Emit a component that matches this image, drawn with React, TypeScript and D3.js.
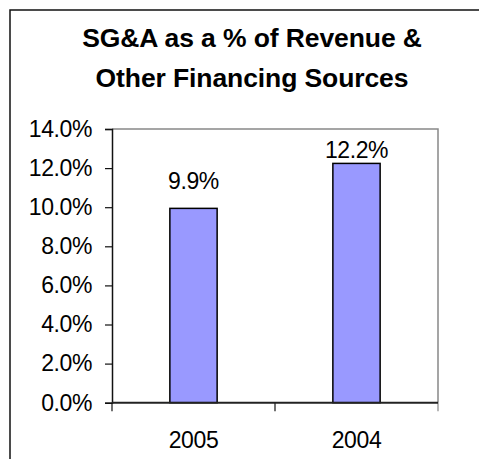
import React, { useEffect, useRef } from 'react'
import * as d3 from 'd3'

const titleLines = ['SG&A as a % of Revenue &', 'Other Financing Sources']
const years = ['2005', '2004']
const sgaPct = [9.94, 12.24]
const yTicks = [0, 2, 4, 6, 8, 10, 12, 14]

const W = 479
const H = 459
const font = '"Liberation Sans", Arial, sans-serif'
const labelSize = 23

export default function App() {
  const svgRef = useRef<SVGSVGElement>(null)

  useEffect(() => {
    const svg = d3.select(svgRef.current)
    svg.selectAll('*').remove()

    const plot = { left: 112, right: 438, top: 129, bottom: 402.7 }

    // outer chart frame, runs past the right and bottom edge
    svg.append('rect')
      .attr('x', 10).attr('y', 10)
      .attr('width', 520).attr('height', 520)
      .attr('fill', 'white')
      .attr('stroke', '#111')
      .attr('stroke-width', 1.5)

    svg.append('g')
      .selectAll('text')
      .data(titleLines)
      .join('text')
      .attr('x', 252)
      .attr('y', (d, i) => 47.3 + i * 40)
      .attr('text-anchor', 'middle')
      .attr('font-family', font)
      .attr('font-weight', 'bold')
      .attr('font-size', 26.5)
      .attr('letter-spacing', -0.1)
      .attr('fill', '#000')
      .text(d => d)

    const x = d3.scaleBand()
      .domain(years)
      .range([plot.left, plot.right])
      .paddingInner(0.71)
      .paddingOuter(0.355)

    const y = d3.scaleLinear()
      .domain([0, 14])
      .range([plot.bottom, plot.top])

    // plot area border (top and right, grey)
    svg.append('path')
      .attr('d', `M${plot.left},${plot.top}H${plot.right}V${plot.bottom}`)
      .attr('fill', 'none')
      .attr('stroke', '#888')
      .attr('stroke-width', 1.5)

    const bars = svg.append('g')
    bars.selectAll('rect')
      .data(sgaPct)
      .join('rect')
      .attr('x', (d, i) => x(years[i]))
      .attr('y', d => y(d))
      .attr('width', x.bandwidth())
      .attr('height', d => y(0) - y(d))
      .attr('fill', '#9999FF')
      .attr('stroke', '#000')
      .attr('stroke-width', 1.5)

    bars.selectAll('text')
      .data(sgaPct)
      .join('text')
      .attr('x', (d, i) => x(years[i]) + x.bandwidth() / 2)
      .attr('y', d => Math.max(y(d) - 19, plot.top + 29.3))
      .attr('text-anchor', 'middle')
      .attr('font-family', font)
      .attr('font-size', labelSize)
      .attr('letter-spacing', -0.4)
      .attr('fill', '#000')
      .text(d => d.toFixed(1) + '%')

    const yAxis = d3.axisLeft(y)
      .tickValues(yTicks)
      .tickSize(7)
      .tickPadding(13)
      .tickFormat(d => (+d).toFixed(1) + '%')

    const gy = svg.append('g')
      .attr('transform', `translate(${plot.left},0)`)
      .call(yAxis)
    gy.select('.domain').attr('stroke', '#111').attr('stroke-width', 1.5)
    gy.selectAll('.tick line').attr('stroke', '#111').attr('stroke-width', 1.2)
    gy.selectAll('.tick text')
      .attr('font-family', font)
      .attr('font-size', labelSize)
      .attr('letter-spacing', -0.4)
      .attr('fill', '#000')

    // category axis: ticks sit between categories
    const step = x.step()
    const bounds = [plot.left, ...years.map(c => x(c) + x.bandwidth() / 2 + step / 2)]
    const gx = svg.append('g')
    gx.selectAll('line.tick')
      .data(bounds)
      .join('line')
      .attr('class', 'tick')
      .attr('x1', d => d).attr('x2', d => d)
      .attr('y1', plot.bottom).attr('y2', plot.bottom + 8.5)
      .attr('stroke', (d, i) => (i === bounds.length - 1 ? '#888' : '#111'))
      .attr('stroke-width', 1.2)
    gx.append('line')
      .attr('x1', plot.left).attr('x2', plot.right)
      .attr('y1', plot.bottom).attr('y2', plot.bottom)
      .attr('stroke', '#222')
      .attr('stroke-width', 2)
    gx.selectAll('text')
      .data(years)
      .join('text')
      .attr('x', d => x(d) + x.bandwidth() / 2)
      .attr('y', plot.bottom + 45.5)
      .attr('text-anchor', 'middle')
      .attr('font-family', font)
      .attr('font-size', labelSize)
      .attr('letter-spacing', -0.4)
      .attr('fill', '#000')
      .text(d => d)
  }, [])

  return (
    <svg
      ref={svgRef}
      width={W}
      height={H}
      style={{ position: 'absolute', left: 0, top: 0, background: 'white' }}
    />
  )
}
